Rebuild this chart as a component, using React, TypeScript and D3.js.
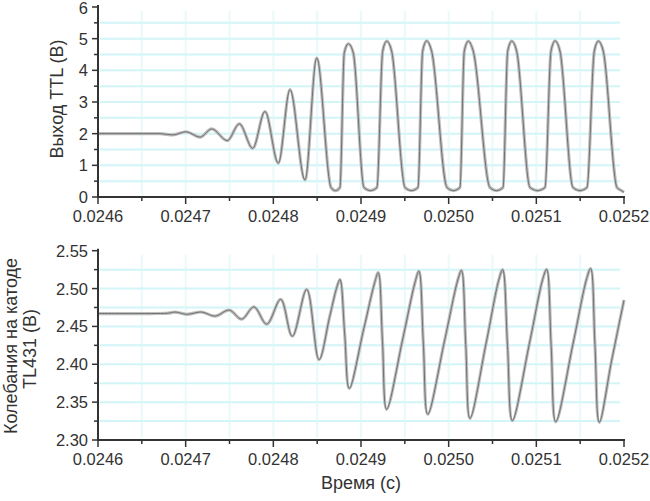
import React, { useEffect, useRef } from "react";
import * as d3 from "d3";

/* DATA */
// x range and tick labels (shared by both panels)
const xDomain = [0.0246, 0.0252];
const xTickLabels = ["0.0246", "0.0247", "0.0248", "0.0249", "0.0250", "0.0251", "0.0252"];

// top panel: TTL output, volts
const ttlYTicks = [0, 1, 2, 3, 4, 5, 6];
const ttlTime = [
  0.0246, 0.0246479, 0.0246707, 0.0246855, 0.0247004, 0.0247163, 0.0247297, 0.0247475,
  0.0247612, 0.0247765, 0.0247905, 0.0248057, 0.024819, 0.0248361, 0.0248495,
  0.0248658, 0.0248709, 0.024876, 0.0248809, 0.0248855, 0.0248912,
  0.0249034, 0.0249108, 0.0249182, 0.0249247, 0.0249293, 0.024935,
  0.0249502, 0.0249576, 0.024965, 0.0249703, 0.0249749, 0.0249806,
  0.0249981, 0.0250055, 0.0250129, 0.0250178, 0.0250224, 0.0250281,
  0.0250471, 0.0250545, 0.025062, 0.0250673, 0.0250719, 0.0250776,
  0.0250928, 0.0251014, 0.0251099, 0.0251167, 0.0251213, 0.025127,
  0.0251418, 0.0251498, 0.0251578, 0.0251661, 0.0251707, 0.0251764,
  0.025192, 0.025196, 0.0252,
];
const ttlVolts = [
  2.0, 2.0, 2.0, 1.96, 2.06, 1.89, 2.15, 1.78,
  2.31, 1.54, 2.7, 1.07, 3.39, 0.54, 4.39,
  0.3, 0.2, 0.3, 4.55, 4.84, 4.55,
  0.3, 0.2, 0.3, 4.6, 4.92, 4.6,
  0.3, 0.2, 0.3, 4.6, 4.93, 4.6,
  0.3, 0.2, 0.3, 4.6, 4.92, 4.6,
  0.3, 0.2, 0.3, 4.6, 4.92, 4.6,
  0.3, 0.2, 0.3, 4.6, 4.93, 4.6,
  0.3, 0.2, 0.3, 4.6, 4.92, 4.6,
  0.3, 0.22, 0.15,
];

// bottom panel: TL431 cathode, volts
const katYTicks = [2.3, 2.35, 2.4, 2.45, 2.5, 2.55];
const katTime = [
  0.0246, 0.02466, 0.02468, 0.0246878, 0.0247012, 0.0247183, 0.0247335, 0.0247498,
  0.0247639, 0.0247779, 0.0247924, 0.0248084, 0.0248216, 0.0248381, 0.0248521,
  0.0248641, 0.024872, 0.024876, 0.0248814, 0.0248866,
  0.0249032, 0.0249154, 0.0249197, 0.0249245, 0.0249292,
  0.0249477, 0.0249616, 0.0249661, 0.0249711, 0.0249761,
  0.0249953, 0.0250101, 0.0250146, 0.0250195, 0.0250243,
  0.0250429, 0.0250571, 0.0250616, 0.0250671, 0.0250726,
  0.0250922, 0.0251072, 0.0251118, 0.0251169, 0.0251221,
  0.025142, 0.0251574, 0.025162, 0.0251669, 0.0251718,
  0.0251859, 0.0252,
];
const katVolts = [
  2.467, 2.467, 2.4675, 2.469, 2.466, 2.469, 2.4636, 2.4715,
  2.4596, 2.4758, 2.453, 2.4856, 2.437, 2.4988, 2.406,
  2.462, 2.5, 2.512, 2.44, 2.368,
  2.447, 2.507, 2.521, 2.43, 2.3405,
  2.434, 2.508, 2.523, 2.428, 2.334,
  2.431, 2.51, 2.524, 2.426, 2.3286,
  2.429, 2.511, 2.525, 2.425, 2.3255,
  2.428, 2.512, 2.5255, 2.425, 2.324,
  2.428, 2.513, 2.5265, 2.425, 2.3233,
  2.405, 2.4847,
];

const FONT = "'Liberation Sans', Arial, sans-serif";
const LEFT = 98;
const RIGHT = 624;

function drawPanel(
  svg: any,
  top: number,
  bottom: number,
  yTicks: number[],
  yFmt: (v: number) => string,
  times: number[],
  volts: number[],
  curve: any
) {
  const x = d3.scaleLinear().domain(xDomain).range([LEFT, RIGHT]);
  const yMin = yTicks[0];
  const yMax = yTicks[yTicks.length - 1];
  const y = d3.scaleLinear().domain([yMin, yMax]).range([bottom, top]);
  const step = yTicks[1] - yTicks[0];

  const g = svg.append("g");

  // faint cyan grid (major + minor)
  const xMinor = d3.range(0, 13).map((i) => xDomain[0] + i * 0.00005);
  const yMinor = d3.range(1, (yTicks.length - 1) * 2).map((i) => yMin + (i * step) / 2);
  g.selectAll(".hg")
    .data(yMinor)
    .enter()
    .append("line")
    .attr("x1", LEFT + 2)
    .attr("x2", RIGHT - 4)
    .attr("y1", (d: number) => y(d))
    .attr("y2", (d: number) => y(d))
    .attr("stroke", "#c4f2f6")
    .attr("stroke-width", 2)
    .attr("opacity", 0.75);
  g.selectAll(".vg")
    .data(xMinor.slice(1, 12))
    .enter()
    .append("line")
    .attr("x1", (d: number) => x(d))
    .attr("x2", (d: number) => x(d))
    .attr("y1", top + 4)
    .attr("y2", bottom - 2)
    .attr("stroke", "#dcf7f9")
    .attr("stroke-width", 2)
    .attr("opacity", 0.6);

  // signal: light halo with a darker core
  const line = d3
    .line<number>()
    .x((d, i) => x(times[i]))
    .y((d) => y(d))
    .curve(curve);
  g.append("path")
    .attr("d", line(volts))
    .attr("fill", "none")
    .attr("stroke", "#bdbdbd")
    .attr("stroke-width", 3.2)
    .attr("stroke-linejoin", "round");
  g.append("path")
    .attr("d", line(volts))
    .attr("fill", "none")
    .attr("stroke", "#717171")
    .attr("stroke-width", 1)
    .attr("stroke-linejoin", "round");

  // axes
  const axisColor = "#333";
  g.append("line")
    .attr("x1", LEFT)
    .attr("x2", LEFT)
    .attr("y1", top - 2)
    .attr("y2", bottom)
    .attr("stroke", axisColor)
    .attr("stroke-width", 2);
  g.append("line")
    .attr("x1", LEFT - 1)
    .attr("x2", RIGHT + 1)
    .attr("y1", bottom)
    .attr("y2", bottom)
    .attr("stroke", axisColor)
    .attr("stroke-width", 2);

  // x ticks
  g.selectAll(".xt")
    .data(xMinor)
    .enter()
    .append("line")
    .attr("x1", (d: number) => x(d))
    .attr("x2", (d: number) => x(d))
    .attr("y1", bottom)
    .attr("y2", (d: number, i: number) => bottom + (i % 2 === 0 ? 7 : 4))
    .attr("stroke", axisColor)
    .attr("stroke-width", 1.5);
  g.selectAll(".xl")
    .data(xTickLabels)
    .enter()
    .append("text")
    .attr("x", (d: string, i: number) => x(xDomain[0] + i * 0.0001))
    .attr("y", bottom + 25)
    .attr("text-anchor", "middle")
    .attr("font-family", FONT)
    .attr("font-size", 16.5)
    .attr("fill", "#333")
    .text((d: string) => d);

  // y ticks
  const yAll = d3.range(0, (yTicks.length - 1) * 2 + 1).map((i) => yMin + (i * step) / 2);
  g.selectAll(".yt")
    .data(yAll)
    .enter()
    .append("line")
    .attr("x1", LEFT)
    .attr("x2", (d: number, i: number) => LEFT - (i % 2 === 0 ? 6 : 4))
    .attr("y1", (d: number) => y(d))
    .attr("y2", (d: number) => y(d))
    .attr("stroke", axisColor)
    .attr("stroke-width", 1.5);
  g.selectAll(".yl")
    .data(yTicks)
    .enter()
    .append("text")
    .attr("x", LEFT - 10)
    .attr("y", (d: number) => Math.max(y(d) + 6, 14))
    .attr("text-anchor", "end")
    .attr("font-family", FONT)
    .attr("font-size", 16.5)
    .attr("fill", "#333")
    .text((d: number) => yFmt(d));
}

function App() {
  const svgRef = useRef(null);

  useEffect(() => {
    const svg = d3.select(svgRef.current);
    svg.selectAll("*").remove();

    drawPanel(svg, 7, 197, ttlYTicks, (v) => String(v), ttlTime, ttlVolts, d3.curveMonotoneX);
    drawPanel(
      svg,
      250.7,
      440,
      katYTicks,
      (v) => v.toFixed(2),
      katTime,
      katVolts,
      d3.curveCatmullRom.alpha(0.5)
    );

    // axis titles
    svg
      .append("text")
      .attr("transform", "translate(63, 99) rotate(-90)")
      .attr("text-anchor", "middle")
      .attr("font-family", FONT)
      .attr("font-size", 18)
      .attr("fill", "#333")
      .text("Выход TTL (В)");
    svg
      .append("text")
      .attr("transform", "translate(17, 346) rotate(-90)")
      .attr("text-anchor", "middle")
      .attr("font-family", FONT)
      .attr("font-size", 18)
      .attr("fill", "#333")
      .text("Колебания на катоде");
    svg
      .append("text")
      .attr("transform", "translate(36, 349) rotate(-90)")
      .attr("text-anchor", "middle")
      .attr("font-family", FONT)
      .attr("font-size", 18)
      .attr("fill", "#333")
      .text("TL431 (В)");
    svg
      .append("text")
      .attr("x", 361)
      .attr("y", 489)
      .attr("text-anchor", "middle")
      .attr("font-family", FONT)
      .attr("font-size", 18)
      .attr("fill", "#333")
      .text("Время (с)");
  }, []);

  return (
    <svg
      ref={svgRef}
      width={650}
      height={501}
      style={{ position: "absolute", left: 0, top: 0, background: "#fff" }}
    />
  );
}

export default App;
